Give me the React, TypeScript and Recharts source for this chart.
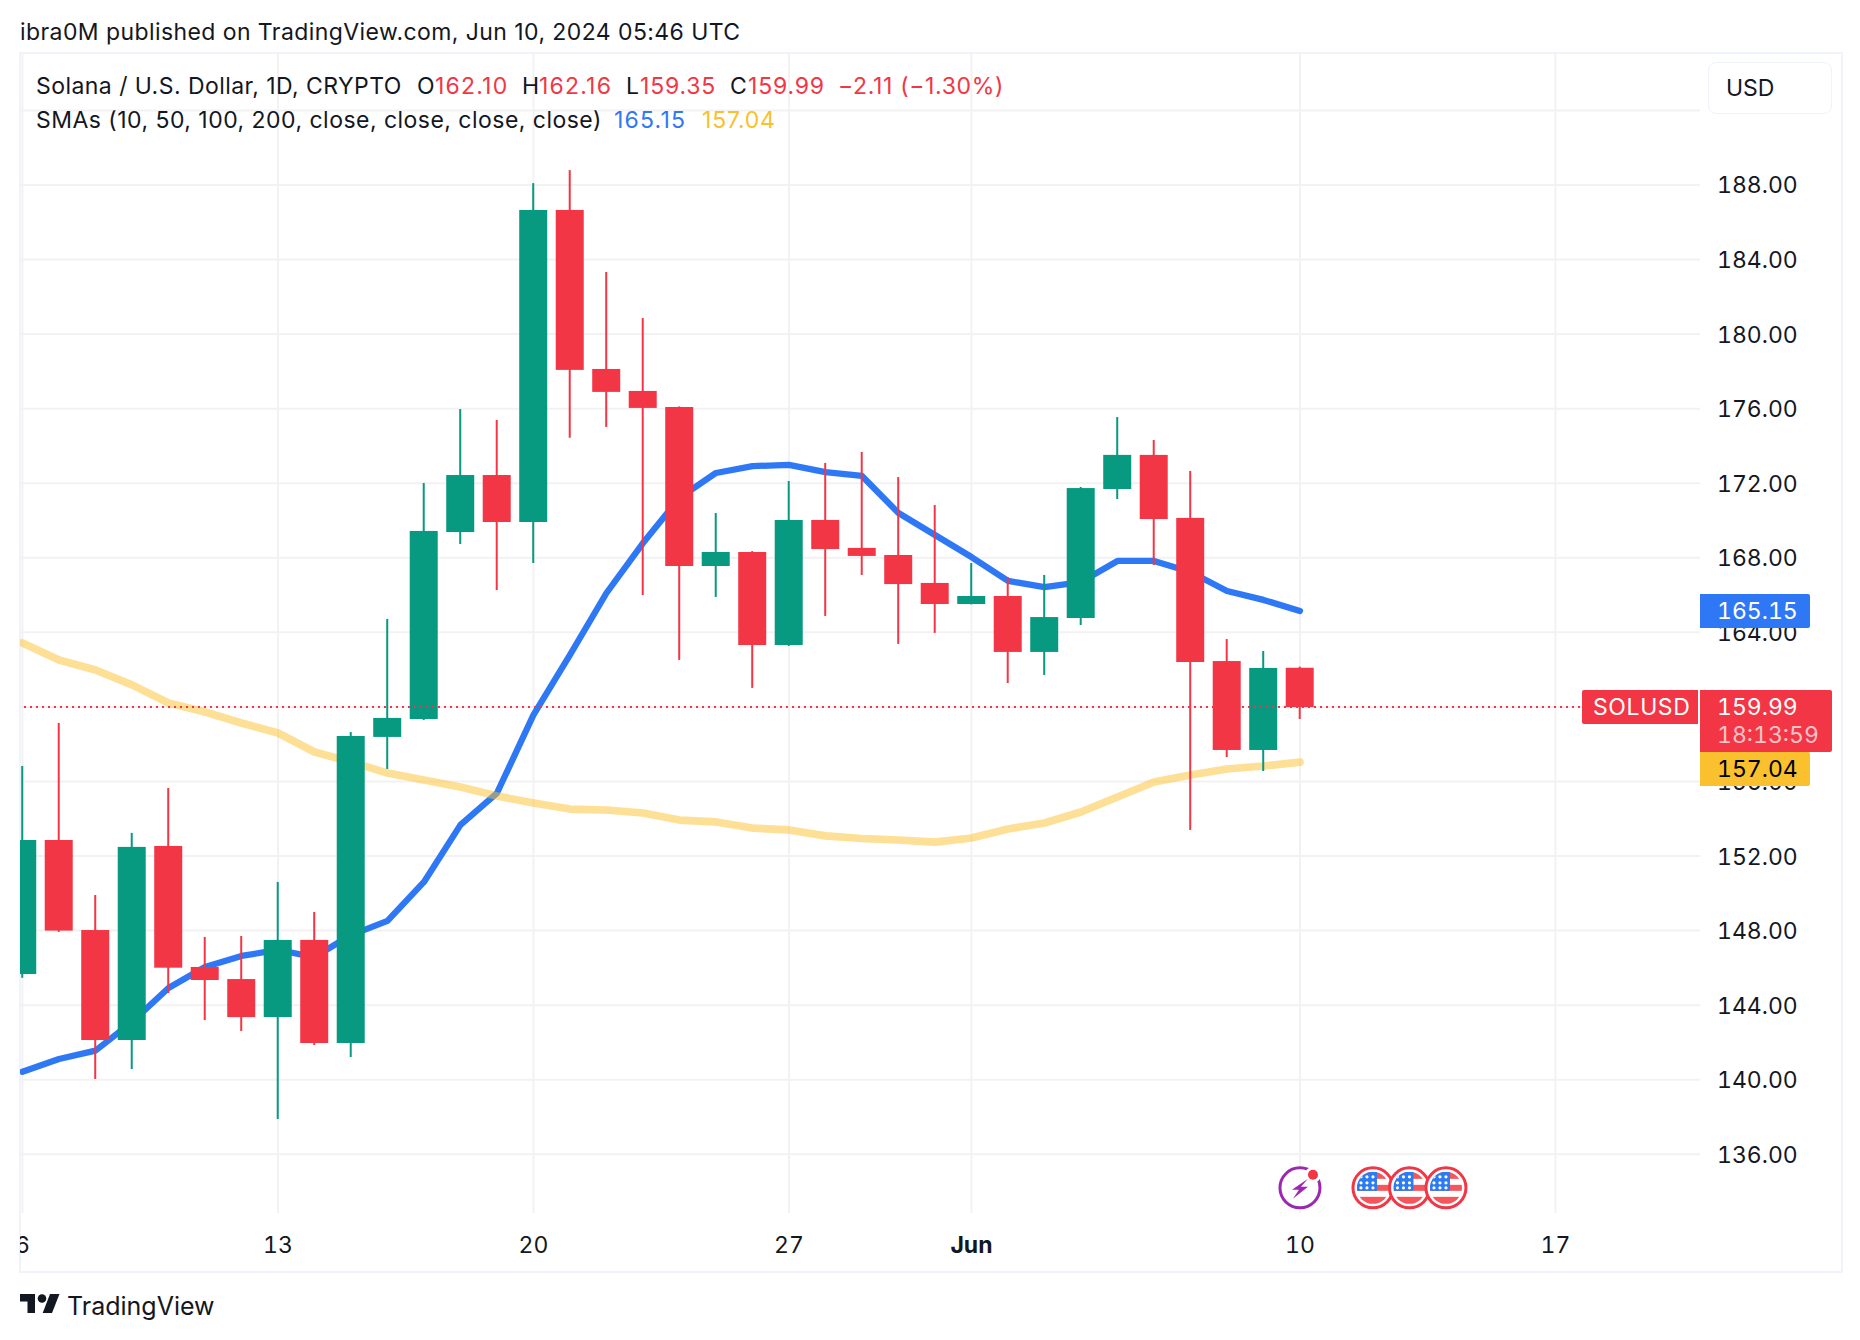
import React from 'react';
import { ComposedChart, Bar, Line, XAxis, YAxis, CartesianGrid, ReferenceLine, ReferenceDot } from 'recharts';

const FONT = 'Inter, "Liberation Sans", sans-serif';
const INK = '#131722';
const GREEN = '#089981';
const RED = '#F23645';
const BLUE = '#2F78F5';
const GOLD = '#FBC02D';
const LINE = '#F2F2F3';
const BORDER = '#F0F3FA';
const TNUM = { fontVariantNumeric: 'tabular-nums' };

// days counted from May 6 2024 (0) to Jun 10 (35)
const days = Array.from({ length: 36 }, (_, i) => i);
const opens = [145.67, 152.86, 148.03, 142.13, 152.54, 146.05, 145.4, 143.36, 147.5, 141.97, 158.39, 159.35, 169.38, 172.44, 169.92, 186.66, 178.13, 176.95, 176.09, 167.56, 168.31, 163.32, 170.03, 168.53, 168.15, 166.65, 165.52, 165.95, 162.95, 164.77, 171.69, 173.52, 170.14, 162.46, 157.69, 162.1];
const highs = [156.83, 159.14, 149.91, 153.24, 155.65, 147.66, 147.71, 150.61, 149.0, 158.65, 164.72, 172.01, 175.98, 175.39, 188.1, 188.8, 183.33, 180.86, 176.12, 170.4, 168.36, 172.12, 173.09, 173.68, 172.33, 170.83, 167.72, 166.97, 167.08, 171.8, 175.55, 174.32, 172.66, 163.64, 163.0, 162.16];
const lows = [145.47, 147.93, 140.04, 140.57, 144.65, 143.2, 142.61, 137.89, 141.86, 141.22, 156.67, 159.3, 168.74, 166.27, 167.72, 174.44, 175.02, 166.0, 162.52, 165.9, 161.02, 163.27, 164.88, 167.08, 163.38, 163.97, 165.5, 161.28, 161.71, 164.39, 171.15, 167.61, 153.4, 157.31, 156.56, 159.35];
const closes = [152.86, 148.0, 142.13, 152.49, 146.01, 145.35, 143.36, 147.5, 141.97, 158.44, 159.41, 169.44, 172.44, 169.92, 186.66, 178.08, 176.9, 176.04, 167.56, 168.31, 163.32, 170.03, 168.47, 168.1, 166.59, 165.52, 165.95, 162.95, 164.82, 171.74, 173.52, 170.08, 162.41, 157.69, 162.09, 159.99];
const smaFast = [140.43, 141.11, 141.56, 143.1, 144.92, 146.05, 146.64, 146.96, 146.58, 147.76, 148.52, 150.61, 153.67, 155.38, 159.57, 162.79, 166.11, 168.79, 171.21, 172.55, 172.92, 172.98, 172.6, 172.39, 170.4, 169.22, 168.04, 166.76, 166.43, 166.7, 167.83, 167.83, 167.24, 166.22, 165.74, 165.15];
const smaSlow = [163.43, 162.52, 161.98, 161.18, 160.21, 159.73, 159.14, 158.6, 157.58, 157.05, 156.45, 156.08, 155.7, 155.22, 154.85, 154.52, 154.47, 154.31, 153.93, 153.83, 153.5, 153.4, 153.08, 152.94, 152.86, 152.75, 152.97, 153.45, 153.77, 154.36, 155.17, 155.97, 156.35, 156.67, 156.83, 157.04];

const priceTicks = [136, 140, 144, 148, 152, 156, 160, 164, 168, 172, 176, 180, 184, 188, 192];
const dayTicks = [0, 7, 14, 21, 26, 35, 42];
const dayLabels = ['6', '13', '20', '27', 'Jun', '10', '17'];
const lastClose = 159.99;
const fastLast = 165.15;
const slowLast = 157.04;
const eventDay = 35;
const flagDays = [37, 38, 39];
const eventPrice = 134.2;

const X_DOMAIN: [number, number] = [-0.068, 45.96];
const Y_DOMAIN: [number, number] = [132.85, 195.08];

const rows = days.map((day, i) => ({
  day,
  wick: [lows[i], highs[i]],
  body: [Math.min(opens[i], closes[i]), Math.max(opens[i], closes[i])],
  up: closes[i] >= opens[i],
  fast: smaFast[i],
  slow: smaSlow[i],
}));

const Candle = (p: any) => (
  <rect x={p.x} y={p.y} width={p.width} height={p.height} fill={p.payload.up ? GREEN : RED} />
);

const PriceTick = (p: any) => {
  if (p.payload.value === 192) return null;
  return (
    <text x={p.x + 9} y={p.y} dy={8.5} fontSize={23} style={TNUM} fontFamily={FONT} fill={INK}>
      {p.payload.value.toFixed(2)}
    </text>
  );
};

const DayTick = (p: any) => {
  const label = dayLabels[dayTicks.indexOf(p.payload.value)];
  return (
    <text x={p.x} y={p.y} dy={32} textAnchor="middle" fontSize={23} style={TNUM} fontFamily={FONT} fill={INK} fontWeight={label === 'Jun' ? 700 : 400}>
      {label}
    </text>
  );
};

// the tag is pushed down by `shift` where it would collide with the last price tag
const PriceTag = ({ cx, cy, text, bg, ink, shift = 0 }: any) => (
  <g transform={`translate(0 ${shift})`}>
    <path d={`M${cx} ${cy - 17}h108a2 2 0 0 1 2 2v30a2 2 0 0 1 -2 2h-108z`} fill={bg} />
    <text x={cx + 17} y={cy} dy={8} fontSize={23} style={TNUM} fontFamily={FONT} fill={ink}>{text}</text>
  </g>
);

const LastTag = ({ cx, cy }: any) => (
  <g>
    <rect x={cx - 2} y={cy - 17} width={2} height={34} fill="#fff" />
    <path d={`M${cx - 2} ${cy - 17}h-114a2 2 0 0 0 -2 2v30a2 2 0 0 0 2 2h114z`} fill={RED} />
    <text x={cx - 107} y={cy} dy={8} fontSize={23} letterSpacing={0.6} fontFamily={FONT} fill="#fff">SOLUSD</text>
    <path d={`M${cx} ${cy - 17}h130a2 2 0 0 1 2 2v58a2 2 0 0 1 -2 2h-130z`} fill={RED} />
    <text x={cx + 17} y={cy} dy={8} fontSize={23} style={TNUM} fontFamily={FONT} fill="#fff">{lastClose.toFixed(2)}</text>
    <text x={cx + 17} y={cy + 28} dy={8} fontSize={23} style={TNUM} fontFamily={FONT} fill="#FBC3C7">18:13:59</text>
  </g>
);

const EventIcon = ({ cx, cy }: any) => (
  <g>
    <circle cx={cx} cy={cy} r={20} fill="#fff" stroke="#9C27B0" strokeWidth={3} />
    <circle cx={cx + 13} cy={cy - 13} r={8} fill="#fff" />
    <circle cx={cx + 13} cy={cy - 13} r={5} fill={RED} />
    <path d={`M${cx + 8} ${cy - 9}L${cx - 8} ${cy + 2}H${cx - 1}L${cx - 7} ${cy + 11}L${cx + 8} ${cy - 1}H${cx + 1}Z`} fill="#9C27B0" />
  </g>
);

const FlagIcon = ({ cx, cy, id }: any) => (
  <g>
    <clipPath id={id}><circle cx={cx} cy={cy} r={16} /></clipPath>
    <circle cx={cx} cy={cy} r={20} fill="#fff" stroke={RED} strokeWidth={3} />
    <g clipPath={`url(#${id})`}>
      <rect x={cx - 16} y={cy - 16} width={32} height={7} fill="#F4565B" />
      <rect x={cx - 16} y={cy - 3} width={32} height={6} fill="#F4565B" />
      <rect x={cx - 16} y={cy + 9} width={32} height={8} fill="#F4565B" />
      <rect x={cx - 16} y={cy - 16} width={20} height={19} fill="#2B7CF0" />
      {[-12, -6, 0].map((dx) => [-11, -5, 0].map((dy) => (
        <circle key={`${dx}${dy}`} cx={cx + dx} cy={cy + dy} r={1.6} fill="#fff" />
      )))}
    </g>
  </g>
);

const Txt = ({ x, y, color = INK, size = 23, ls = 0.45, children }: any) => (
  <span style={{ position: 'absolute', left: x, top: y - 20, height: 40, lineHeight: '40px', fontSize: size, letterSpacing: ls, color, whiteSpace: 'nowrap' }}>
    {children}
  </span>
);

export default function App() {
  return (
    <div style={{ position: 'absolute', left: 0, top: 0, width: 1860, height: 1340, overflow: 'hidden', background: '#fff', fontFamily: FONT }}>
      <Txt x={20} y={32} ls={0.42}>ibra0M published on TradingView.com, Jun 10, 2024 05:46 UTC</Txt>

      <div style={{ position: 'absolute', left: 19, top: 52, width: 1820, height: 1217, border: `2px solid ${BORDER}` }} />
      <div style={{ position: 'absolute', left: 20, top: 53 }}>
        <ComposedChart width={1820} height={1217} data={rows} margin={{ top: 0, right: 0, bottom: 0, left: 0 }}>
          <CartesianGrid stroke={LINE} strokeWidth={2} syncWithTicks />
          <XAxis dataKey="day" type="number" domain={X_DOMAIN} ticks={dayTicks} allowDataOverflow axisLine={false} tickLine={false} height={57} tick={<DayTick />} interval={0} />
          <XAxis dataKey="day" xAxisId="wick" type="number" domain={X_DOMAIN} allowDataOverflow hide />
          <YAxis orientation="right" type="number" domain={Y_DOMAIN} ticks={priceTicks} allowDataOverflow axisLine={false} tickLine={false} width={140} tick={<PriceTick />} interval={0} />
          <Line dataKey="fast" stroke={BLUE} strokeWidth={6.3} dot={false} strokeLinecap="round" strokeLinejoin="round" isAnimationActive={false} />
          <Line dataKey="slow" stroke={GOLD} strokeOpacity={0.5} strokeWidth={7.7} dot={false} strokeLinecap="round" strokeLinejoin="round" isAnimationActive={false} />
          <Bar xAxisId="wick" dataKey="wick" barSize={2} shape={Candle} isAnimationActive={false} zIndex={450} />
          <Bar dataKey="body" barSize={28} shape={Candle} isAnimationActive={false} zIndex={451} />
          <ReferenceLine y={lastClose} stroke={RED} strokeWidth={2} strokeDasharray="2 4" zIndex={460} />
          <ReferenceDot x={eventDay} y={eventPrice} ifOverflow="visible" shape={<EventIcon />} zIndex={3000} />
          {flagDays.map((d) => (
            <ReferenceDot key={d} x={d} y={eventPrice} ifOverflow="visible" shape={<FlagIcon id={`flag${d}`} />} zIndex={3000} />
          ))}
          <ReferenceDot x={X_DOMAIN[1]} y={slowLast} ifOverflow="visible" shape={<PriceTag text={slowLast.toFixed(2)} bg={GOLD} ink="#000" shift={7} />} zIndex={3001} />
          <ReferenceDot x={X_DOMAIN[1]} y={fastLast} ifOverflow="visible" shape={<PriceTag text={fastLast.toFixed(2)} bg={BLUE} ink="#fff" />} zIndex={3001} />
          <ReferenceDot x={X_DOMAIN[1]} y={lastClose} ifOverflow="visible" shape={<LastTag />} zIndex={3002} />
        </ComposedChart>
      </div>

      <Txt x={36} y={86}>Solana / U.S. Dollar, 1D, CRYPTO</Txt>
      <Txt x={417} y={86}>O</Txt>
      <Txt x={435} y={86} color={RED} ls={1.2}>162.10</Txt>
      <Txt x={522} y={86}>H</Txt>
      <Txt x={539} y={86} color={RED} ls={1.2}>162.16</Txt>
      <Txt x={626} y={86}>L</Txt>
      <Txt x={640} y={86} color={RED} ls={0.8}>159.35</Txt>
      <Txt x={730} y={86}>C</Txt>
      <Txt x={748} y={86} color={RED} ls={0.8}>159.99</Txt>
      <Txt x={838} y={86} color={RED} ls={0.65}>−2.11 (−1.30%)</Txt>
      <Txt x={36} y={120} ls={0.47}>SMAs (10, 50, 100, 200, close, close, close, close)</Txt>
      <Txt x={614} y={120} color={BLUE} ls={1.2}>165.15</Txt>
      <Txt x={702} y={120} color={GOLD} ls={0.8}>157.04</Txt>

      <div style={{ position: 'absolute', left: 1708, top: 62, width: 124, height: 52, boxSizing: 'border-box', border: `1.5px solid ${BORDER}`, borderRadius: 8, background: '#fff' }} />
      <Txt x={1726} y={88} ls={0}>USD</Txt>

      <svg width={44} height={24} style={{ position: 'absolute', left: 20, top: 1292 }}>
        <path d="M0 2H15V21H7.5V9.5H0Z" fill={INK} />
        <circle cx={22} cy={6.5} r={4.3} fill={INK} />
        <path d="M30 2H39.5L32 21H22.7Z" fill={INK} />
      </svg>
      <Txt x={67} y={1306} size={25} ls={0}>TradingView</Txt>
    </div>
  );
}
